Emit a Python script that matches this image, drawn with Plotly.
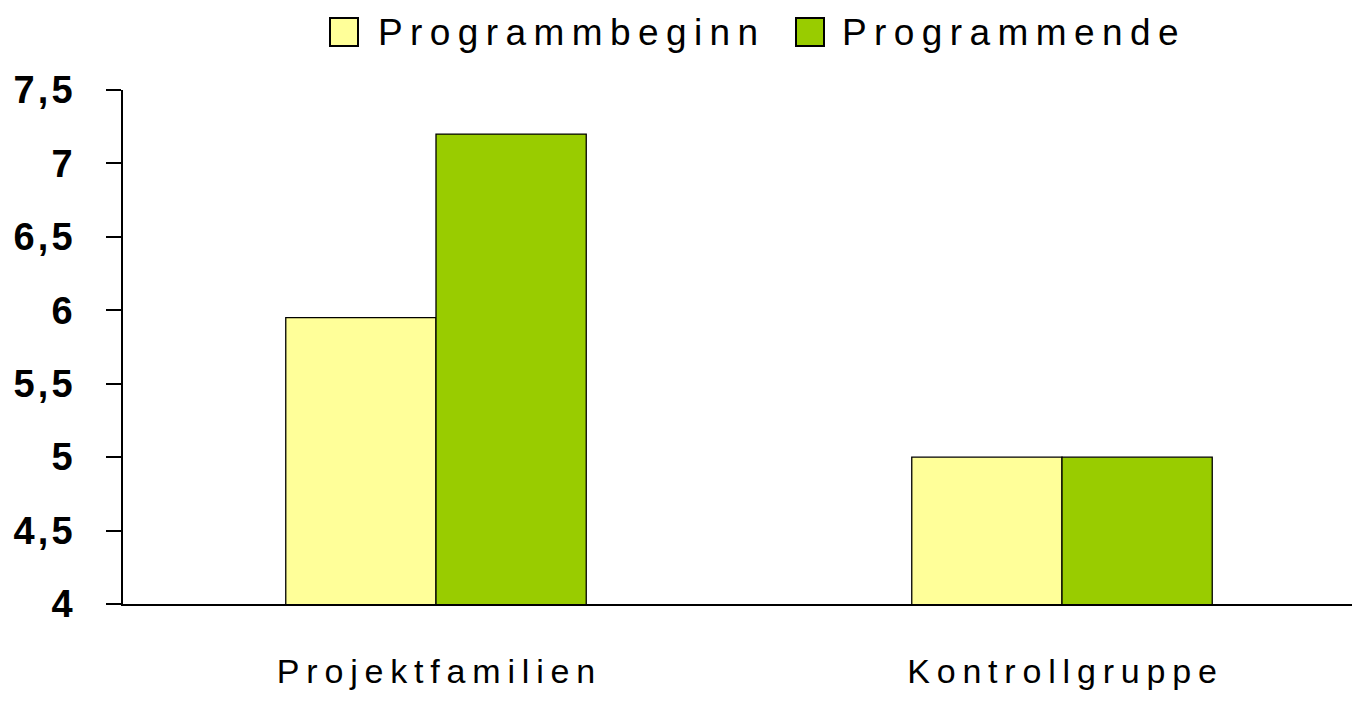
import plotly.graph_objects as go

categories = ["Projektfamilien", "Kontrollgruppe"]
series_names = ["Programmbeginn", "Programmende"]
beginn = [5.95, 5.0]
ende = [7.2, 5.0]
ytick_vals = [4, 4.5, 5, 5.5, 6, 6.5, 7, 7.5]
ytick_labels = ["4", "4,5", "5", "5,5", "6", "6,5", "7", "7,5"]
colors = ["#FFFF99", "#99CC00"]

FONT = "Liberation Sans, Arial, sans-serif"
W, H = 1360, 709
OFF = 8  # page body margin offset
L, R, T, B = 123 - OFF, 0, 90 - OFF, H - (604 - OFF)
THIN = "\u2009"
HAIR = "\u200a"


def spaced(s, sep=THIN):
    return sep.join(list(s))


def px_x(px):
    return (px - OFF - L) / (W - L - R)


def px_y(py):
    return (H - B - (py - OFF)) / (H - B - T)


fig = go.Figure()
for name, vals, col in zip(series_names, [beginn, ende], colors):
    fig.add_trace(go.Bar(
        x=categories, y=vals, name=name,
        marker=dict(color=col, line=dict(color="black", width=1.3)),
        showlegend=False,
    ))

# manual legend (larger swatches than plotly's built-in legend)
legend_pos = [(330, 376), (796, 840)]
for (sx, tx), name, col in zip(legend_pos, series_names, colors):
    fig.add_shape(type="rect", xref="paper", yref="paper",
                  x0=px_x(sx), x1=px_x(sx + 28), y0=px_y(46), y1=px_y(18),
                  fillcolor=col, line=dict(color="black", width=2))
    fig.add_annotation(xref="paper", yref="paper", x=px_x(tx), y=px_y(33),
                       xanchor="left", yanchor="middle", showarrow=False,
                       text=spaced(name), font=dict(family=FONT, size=37, color="black"))

fig.update_layout(
    width=W, height=H,
    margin=dict(l=L, r=R, t=T, b=B, autoexpand=False),
    paper_bgcolor="white", plot_bgcolor="white",
    barmode="group", bargap=0.52, bargroupgap=0,
    xaxis=dict(
        range=[-0.5, -0.5 + (W - L - R) / 626.0],
        showline=True, linecolor="black", linewidth=1.5,
        ticks="", showgrid=False, zeroline=False, automargin=False,
        tickvals=categories, ticktext=[spaced(c) for c in categories],
        tickfont=dict(family=FONT, size=34, color="black"),
        ticklabelstandoff=36,
    ),
    yaxis=dict(
        range=[4, 7.5],
        showline=True, linecolor="black", linewidth=1.5,
        ticks="outside", ticklen=15, tickwidth=1.5, tickcolor="black",
        showgrid=False, zeroline=False, automargin=False,
        tickvals=ytick_vals, ticktext=[spaced(t, HAIR) for t in ytick_labels],
        tickfont=dict(family=FONT, size=38, color="black", weight="bold"),
        ticklabelstandoff=26,
    ),
)

fig.write_html("out.html")
